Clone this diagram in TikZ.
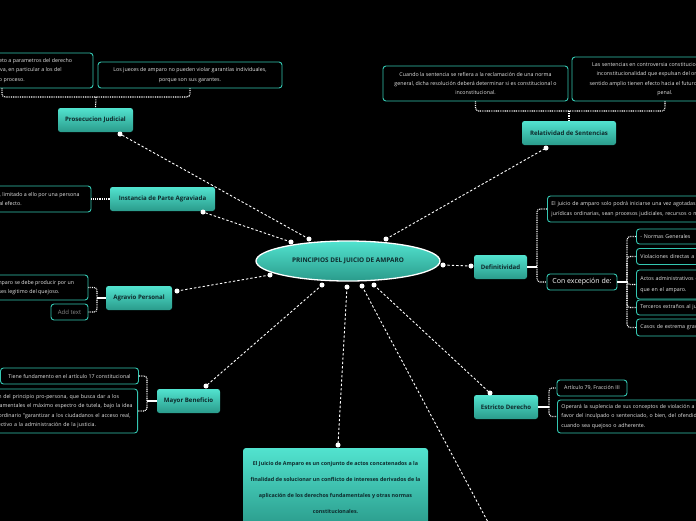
\documentclass[tikz,border=0pt]{standalone}
\usepackage{fontspec}
\setmainfont{Open Sans}
\usetikzlibrary{shapes.geometric,calc}
\definecolor{tealA}{HTML}{52E3CF}
\definecolor{tealB}{HTML}{2A9B8B}
\definecolor{leafc}{HTML}{34C7B2}
\definecolor{labc}{HTML}{0E2A2C}
\definecolor{leaftxt}{HTML}{E6E6E6}
\definecolor{addtxt}{HTML}{8A8A8A}
\begin{document}
\begin{tikzpicture}[x=1pt,y=-1pt,
  branch/.style={rounded corners=2.5pt, top color=tealA, bottom color=tealB, text=labc,
    font=\bfseries\fontsize{6.1}{7}\selectfont, inner sep=0pt},
  leaf/.style={draw=leafc, line width=0.9pt, rounded corners=3pt, fill=black, text=leaftxt,
    font=\fontsize{5.3}{9.3}\selectfont, inner sep=0pt, align=center},
  leafL/.style={leaf, align=left, inner xsep=4pt, anchor=west},
  link/.style={white, line width=0.9pt, dash pattern=on 2.4pt off 2pt},
  dotend/.style={circle, fill=white, inner sep=0pt, minimum size=5pt},
  brk/.style={white, line width=1.1pt, dash pattern=on 0.9pt off 0.9pt, rounded corners=3pt},
  stem/.style={white, line width=1.1pt}]
\useasboundingbox (0,0) rectangle (696,520);
\clip (0,0) rectangle (696,520);
\fill[black] (-5,-5) rectangle (701,525);

% central node
\node[ellipse, draw=white, line width=1.3pt, top color=tealA, bottom color=tealB,
  minimum width=184pt, minimum height=40pt, inner sep=0pt, text=labc,
  font=\bfseries\fontsize{6.4}{7}\selectfont] (ctr) at (348,261) {PRINCIPIOS DEL JUICIO DE AMPARO};

% branch nodes
\node[branch, minimum width=75pt, minimum height=24pt] (pj) at (95.5,120) {Prosecucion Judicial};
\node[branch, minimum width=105pt, minimum height=24pt] (ipa) at (162.5,199) {Instancia de Parte Agraviada};
\node[branch, minimum width=66pt, minimum height=24pt] (ap) at (139,298) {Agravio Personal};
\node[branch, minimum width=63pt, minimum height=24pt] (mb) at (188.5,401) {Mayor Beneficio};
\node[branch, minimum width=64pt, minimum height=24pt] (ed) at (506,407) {Estricto Derecho};
\node[branch, minimum width=53pt, minimum height=24pt] (def) at (500.5,267) {Definitividad};
\node[branch, minimum width=94pt, minimum height=24pt] (rs) at (569,133) {Relatividad de Sentencias};
\node[branch, rounded corners=3pt, minimum width=185pt, minimum height=79pt, align=center,
  font=\bfseries\fontsize{5.35}{16.3}\selectfont] (jb) at (335.5,487.5)
  {El Juicio de Amparo es un conjunto de actos concatenados a la\\
   finalidad de solucionar un conflicto de intereses derivados de la\\
   aplicación de los derechos fundamentales y otras normas\\
   constitucionales.};

% leaves: Prosecucion Judicial
\node[leaf, minimum width=182pt, minimum height=35pt] (pa) at (2,70.5)
  {El juicio de amparo está sujeto a parametros del derecho\\
   a la tutela judicial efectiva, en particular a los del\\
   al debido proceso.};
\node[leaf, minimum width=184pt, minimum height=26pt] (pb) at (190,75)
  {Los jueces de amparo no pueden violar garantías individuales,\\
   porque son sus garantes.};

% leaves: Relatividad de Sentencias
\node[leaf, minimum width=185pt, minimum height=35pt] (pc) at (475.5,83.5)
  {Cuando la sentencia se refiera a la reclamación de una norma\\
   general, dicha resolución deberá determinar si es constitucional o\\
   inconstitucional.};
\node[leaf, minimum width=186pt, minimum height=44pt] (pd) at (665,79)
  {Las sentencias en controversia constitucional y acciones de\\
   inconstitucionalidad que expulsan del orden jurídico en\\
   sentido amplio tienen efecto hacia el futuro, salvo en materia\\
   penal.};

% leaves: Instancia
\node[leaf, minimum width=161pt, minimum height=26pt] (pe) at (10.5,199)
  {Solo a petición de parte, limitado a ello por una persona\\
   al efecto.};

% leaves: Agravio
\node[leaf, minimum width=168pt, minimum height=25pt] (pf) at (4,287.5)
  {El agravio que motiva el amparo se debe producir por un\\
   perjuicio a los intereses legitimo del quejoso.};
\node[leaf, minimum width=37pt, minimum height=16pt, text=addtxt,
  font=\fontsize{6}{7}\selectfont] (pg) at (69.5,312) {Add text};

% leaves: Mayor Beneficio
\node[leaf, minimum width=138pt, minimum height=16pt] (ph) at (69.5,376)
  {Tiene fundamento en el artículo 17 constitucional};
\node[leaf, align=left, inner xsep=4pt, text width=170pt, minimum height=44pt, anchor=east] (pi) at (138,411)
  {Es la aplicación del principio pro-persona, que busca dar a los\\
   derechos fundamentales el máximo espectro de tutela, bajo la idea\\
   del legislador ordinario "garantizar a los ciudadanos el acceso real,\\
   completo y efectivo a la administración de la justicia.};

% leaves: Definitividad
\node[leafL, text width=230pt, minimum height=26pt] (pjj) at (547,209)
  {El juicio de amparo solo podrá iniciarse una vez agotadas las instancias\\
   jurídicas ordinarias, sean procesos judiciales, recursos o medios de defensa.};
\node[leaf, minimum width=70pt, minimum height=16pt, font=\fontsize{7}{8}\selectfont, text=white] (pk) at (582,282)
  {Con excepción de:};
\node[leafL, text width=150pt, minimum height=15pt] (k1) at (636,236.5) {- Normas Generales};
\node[leafL, text width=150pt, minimum height=16pt] (k2) at (636,256.5) {Violaciones directas a la Constitución};
\node[leafL, text width=150pt, minimum height=29pt, font=\fontsize{5.3}{10.5}\selectfont] (k3) at (636,284.5)
  {Actos administrativos con mayores requisitos\\que en el amparo.};
\node[leafL, text width=150pt, minimum height=15pt] (k4) at (636,307.5) {Terceros extraños al juicio};
\node[leafL, text width=150pt, minimum height=17pt] (k5) at (636,327.5) {Casos de extrema gravedad};

% leaves: Estricto Derecho
\node[leaf, minimum width=70pt, minimum height=16pt] (pl) at (592,388) {Artículo 79, Fracción III};
\node[leafL, text width=180pt, minimum height=33pt, font=\fontsize{5.3}{9.5}\selectfont] (pm) at (557,416.5)
  {Operará la suplencia de sus conceptos de violación a\\
   favor del inculpado o sentenciado, o bien, del ofendido\\
   cuando sea quejoso o adherente.};

% brackets
\coordinate (bj) at (96,97);
\draw[brk] (pa.south) |- (bj) -| (pb.south);
\draw[brk] (bj) -- (pj.north);
\coordinate (br) at (569,111);
\draw[brk] (pc.south) |- (br) -| (pd.south);
\draw[brk] (br) -- (rs.north);
\draw[brk] (pe.east) -- (ipa.west);
\coordinate (ba) at (97,298);
\draw[brk] (pf.east) -| (ba) |- (pg.east);
\draw[stem] (ba) -- (ap.west);
\coordinate (bm) at (147,401);
\draw[brk] (ph.east) -| (bm) |- (pi.east);
\draw[stem] (bm) -- (mb.west);
\coordinate (bd) at (537,267);
\draw[brk] (pjj.west) -| (bd) |- (pk.west);
\draw[stem] (bd) -- (def.east);
\coordinate (bk) at (627,282);
\draw[brk] (bk) |- (k1.west);
\draw[brk] (bk) |- (k2.west);
\draw[brk] (bk) |- (k3.west);
\draw[brk] (bk) |- (k4.west);
\draw[brk] (bk) |- (k5.west);
\draw[stem] (pk.east) -- (bk);
\coordinate (be) at (549,407);
\draw[brk] (be) |- (pl.west);
\draw[brk] (be) |- (pm.west);
\draw[stem] (ed.east) -- (be);

% main connectors
\coordinate (c1) at (309,239);  \coordinate (e1) at (120,134);
\coordinate (c2) at (291,242);  \coordinate (e2) at (203,212);
\coordinate (c3) at (270,275);  \coordinate (e3) at (177,291);
\coordinate (c4) at (322,285);  \coordinate (e4) at (206,386);
\coordinate (c5) at (347,287);  \coordinate (e5) at (338,445);
\coordinate (c6) at (362,286);  \coordinate (e6) at (489,524);
\coordinate (c7) at (374,285);  \coordinate (e7) at (490,393);
\coordinate (c8) at (443,265);  \coordinate (e8) at (471,266);
\coordinate (c9) at (386,239);  \coordinate (e9) at (546,148);
\foreach \i in {1,...,9} { \draw[link] (c\i) -- (e\i); }
\foreach \i in {1,...,9} { \node[dotend] (dc\i) at (c\i) {}; }
\foreach \i in {1,2,3,4,5,7,8,9} { \node[dotend] (de\i) at (e\i) {}; }
\end{tikzpicture}
\end{document}
